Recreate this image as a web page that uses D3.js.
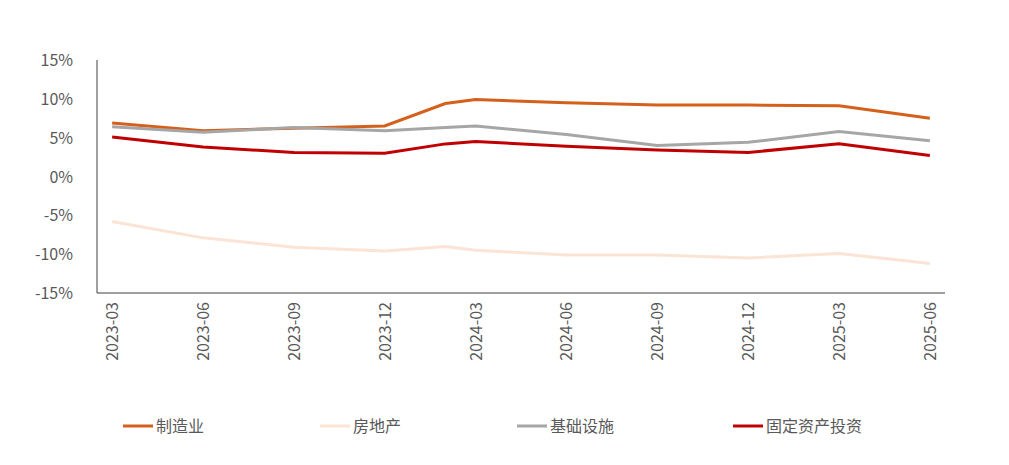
<!DOCTYPE html>
<html><head><meta charset="utf-8">
<script src="https://cdn.jsdelivr.net/npm/d3@7/dist/d3.min.js"></script>
<style>body{margin:0;background:#fff}text{font-family:"Noto Sans CJK SC","Noto Sans",sans-serif}</style>
</head><body><svg id="c" width="1009" height="465"></svg>
<script>
const months = [];
for (let y = 2023; y <= 2025; y++) for (let m = 1; m <= 12; m++) {
  const k = y + "-" + String(m).padStart(2, "0");
  if (k >= "2023-03" && k <= "2025-06") months.push(k);
}
const tickLabels = ["2023-03","2023-06","2023-09","2023-12","2024-03","2024-06","2024-09","2024-12","2025-03","2025-06"];
const dates = ["2023-03","2023-06","2023-09","2023-12","2024-02","2024-03","2024-06","2024-09","2024-12","2025-03","2025-06"];
const manufacturing = [6.9,5.9,6.2,6.5,9.4,9.9,9.5,9.2,9.2,9.1,7.5];
const realEstate = [-5.8,-7.9,-9.1,-9.6,-9.0,-9.5,-10.1,-10.1,-10.5,-9.9,-11.2];
const infrastructure = [6.4,5.7,6.3,5.9,6.3,6.5,5.4,4.0,4.4,5.8,4.6];
const fixedAsset = [5.1,3.8,3.1,3.0,4.2,4.5,3.9,3.4,3.1,4.2,2.7];
const yTicks = [-15,-10,-5,0,5,10,15];
const series = [
  {name:"制造业", values:manufacturing, color:"#d4601c", lx:123},
  {name:"房地产", values:realEstate, color:"#fbe4d5", lx:320},
  {name:"基础设施", values:infrastructure, color:"#a6a6a6", lx:517},
  {name:"固定资产投资", values:fixedAsset, color:"#c00000", lx:733}
];
const svg = d3.select("#c");
const x = d3.scaleBand().domain(months).range([97,945]);
const y = d3.scaleLinear().domain([-15,15]).range([293,60]);
const cx = d => x(d) + x.bandwidth()/2;
// y axis
svg.append("line").attr("x1",97).attr("x2",97).attr("y1",60).attr("y2",293).attr("stroke","#404040");
svg.append("line").attr("x1",97).attr("x2",945).attr("y1",293).attr("y2",293).attr("stroke","#404040");
svg.selectAll(".yt").data(yTicks).join("text").attr("x",73).attr("y",d=>y(d)+6)
  .attr("text-anchor","end").attr("font-size",16).attr("fill","#595959").text(d=>d+"%");
svg.selectAll(".xt").data(tickLabels).join("text")
  .attr("transform",d=>`translate(${cx(d)+6},302) rotate(-90)`)
  .attr("text-anchor","end").attr("font-size",16).attr("fill","#595959").text(d=>d);
const line = d3.line().x((v,i)=>cx(dates[i])).y(v=>y(v));
series.forEach(s=>{
  svg.append("path").attr("d",line(s.values)).attr("fill","none").attr("stroke",s.color).attr("stroke-width",3);
  svg.append("line").attr("x1",s.lx).attr("x2",s.lx+30).attr("y1",426).attr("y2",426).attr("stroke",s.color).attr("stroke-width",3);
  svg.append("text").attr("x",s.lx+33).attr("y",432).attr("font-size",16).attr("fill","#595959").text(s.name);
});
</script></body></html>
